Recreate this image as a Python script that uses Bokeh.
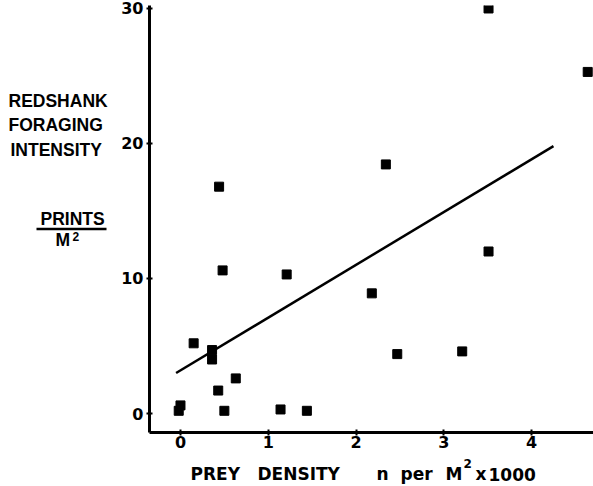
from bokeh.plotting import figure
from bokeh.models import FixedTicker, Range1d
from bokeh.layouts import row, column
from bokeh.core.properties import value
from bokeh.embed import file_html
from bokeh.resources import INLINE

# Data (prey density in thousands per m^2, prints per m^2)
prey_density = [3.51, 4.64, 2.34, 0.44, 0.48, 1.21, 2.18, 3.51, 3.21, 2.47,
                1.44, 1.14, 0.15, 0.36, 0.36, 0.63, 0.43, 0.50, -0.02, 0.0]
foraging = [30.0, 25.3, 18.45, 16.8, 10.6, 10.3, 8.9, 12.0, 4.6, 4.4,
            0.2, 0.3, 5.2, 4.7, 4.0, 2.6, 1.7, 0.2, 0.2, 0.6]

# Regression line end points
line_x = [-0.05, 4.25]
line_y = [3.0, 19.8]

x_ticks = [0, 1, 2, 3, 4]
y_ticks = [0, 10, 20, 30]

y_title_lines = ["REDSHANK", "FORAGING", "INTENSITY"]
y_unit_num = "PRINTS"
y_unit_den = "M"
y_unit_sup = "2"
x_title_words = ["PREY", "DENSITY", "n", "per", "M", "x", "1000"]
x_title_sup = "2"

W, H = 593, 486
LEFT_W = 114
MAIN_H = 458
FRAME_L = 149  # canvas x of the plot frame's left edge

def text_panel(w, h, xr, yr, **kw):
    f = figure(width=w, height=h, output_backend="svg", toolbar_location=None,
               x_range=Range1d(*xr), y_range=Range1d(*yr),
               x_axis_location=None, y_axis_location=None, **kw)
    f.outline_line_color = None
    f.grid.visible = False
    return f

# ---- left panel: y-axis title (canvas pixel coordinates) ----
left = text_panel(LEFT_W, H, (0, LEFT_W), (H, 0), min_border=0)
ytxt = dict(text_font=value("Liberation Sans"), text_font_style="bold",
            text_baseline="middle", text_align="left", text_color="black")
left.text(x=[8, 8, 10], y=[100.5, 124.5, 149], text=y_title_lines,
          text_font_size="17.5px", **ytxt)
left.text(x=[40], y=[218], text=[y_unit_num], text_font_size="17.5px", **ytxt)
left.line(x=[36, 106], y=[228.5, 228.5], line_width=2.5, line_color="black")
left.text(x=[55], y=[239.5], text=[y_unit_den], text_font_size="17.5px", **ytxt)
left.text(x=[72], y=[236], text=[y_unit_sup], text_font_size="12px", **ytxt)

# ---- main plot ----
p = figure(width=W - LEFT_W, height=MAIN_H, output_backend="svg",
           toolbar_location=None,
           x_range=Range1d(-0.353, 4.706), y_range=Range1d(-1.407, 30.22),
           min_border_left=FRAME_L - LEFT_W, min_border_right=0,
           min_border_top=5, min_border_bottom=MAIN_H - 432)
p.outline_line_color = None
p.grid.visible = False
p.background_fill_color = "white"
p.border_fill_color = "white"

for ax in (p.xaxis, p.yaxis):
    ax.axis_line_width = 3
    ax.axis_line_color = "black"
    ax.major_tick_line_width = 2
    ax.major_tick_line_color = "black"
    ax.major_tick_in = 3
    ax.major_tick_out = 3
    ax.minor_tick_line_color = None
    ax.major_label_text_font = "DejaVu Sans"
    ax.major_label_text_font_style = "bold"
    ax.major_label_text_font_size = "16px"
    ax.major_label_text_color = "black"
p.xaxis.ticker = FixedTicker(ticks=x_ticks)
p.yaxis.ticker = FixedTicker(ticks=y_ticks)
p.yaxis.major_label_standoff = 3
p.xaxis.major_label_standoff = 0

p.line(line_x, line_y, line_width=2.5, line_color="black")
p.scatter(prey_density, foraging, marker="square", size=9,
          fill_color="black", line_color="black")

# ---- bottom panel: x-axis title (frame aligned with the main plot) ----
bottom = text_panel(W - LEFT_W, H - MAIN_H, (FRAME_L, W), (H, MAIN_H),
                    min_border_left=FRAME_L - LEFT_W, min_border_right=0,
                    min_border_top=0, min_border_bottom=0)
xtxt = dict(text_font=value("DejaVu Sans"), text_font_style="bold",
            text_baseline="middle", text_align="left", text_color="black")
bottom.text(x=[190, 257, 376, 400, 445, 475, 488], y=[473.5] * 7,
            text=x_title_words, text_font_size="17px", **xtxt)
bottom.text(x=[463], y=[462.5], text=[x_title_sup], text_font_size="12px", **xtxt)

layout = row(left, column(p, bottom))
open("out.html", "w").write(file_html(layout, INLINE))
